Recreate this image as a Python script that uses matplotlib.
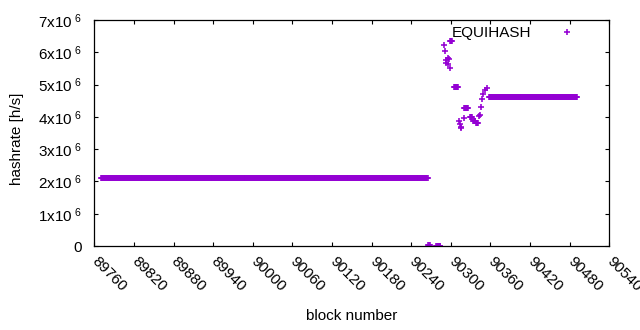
import numpy as np
import matplotlib
matplotlib.use("Agg")
import matplotlib.pyplot as plt
from matplotlib.ticker import FixedLocator, FixedFormatter

plt.rcParams['font.family'] = ['Liberation Sans', 'DejaVu Sans']
plt.rcParams['mathtext.fontset'] = 'custom'
plt.rcParams['mathtext.rm'] = 'Liberation Sans'
plt.rcParams['mathtext.it'] = 'Liberation Sans'
plt.rcParams['mathtext.bf'] = 'Liberation Sans'

# ---- data (hashrate in units of 1e6 h/s) ----
# runs of consecutive blocks with (nearly) constant hashrate
run_start = [89770, 90266, 90278, 90299, 90305, 90320, 90329, 90334, 90338, 90358]
run_end   = [90265, 90268, 90284, 90302, 90311, 90326, 90332, 90337, 90341, 90491]
run_value = [2.10, 0.04, 0.00, 6.34, 4.93, 4.26, 4.00, 3.88, 3.80, 4.63]

# isolated points
single_blocks = [90290, 90291, 90292, 90293, 90295, 90296, 90297, 90298,
                 90312, 90314, 90315, 90316, 90320,
                 90343, 90344, 90345, 90347, 90349, 90352, 90355]
single_values = [6.22, 6.05, 5.76, 5.68, 5.63, 5.82, 5.79, 5.51,
                 3.86, 3.78, 3.68, 3.64, 3.96,
                 4.02, 4.07, 4.30, 4.55, 4.70, 4.82, 4.89]

x_ticks = [89760, 89820, 89880, 89940, 90000, 90060, 90120, 90180,
           90240, 90300, 90360, 90420, 90480, 90540]
y_ticks = [0, 1, 2, 3, 4, 5, 6, 7]
y_tick_labels = ['0'] + [r'%dx10$^{\ 6}$' % v for v in y_ticks[1:]]
series_label = 'EQUIHASH'

# build series
xs, ys = [], []
for s, e, v in zip(run_start, run_end, run_value):
    b = np.arange(s, e + 1)
    xs.append(b)
    ys.append(np.full(b.shape, v * 1e6))
xs.append(np.array(single_blocks))
ys.append(np.array(single_values) * 1e6)
x = np.concatenate(xs)
y = np.concatenate(ys)
order = np.argsort(x, kind='stable')
x, y = x[order], y[order]

fig = plt.figure(figsize=(6.4, 3.3), dpi=100)
ax = fig.add_axes([94.3/640, 1-246/330, 515/640, 226/330])

color = '#9400d3'
ax.plot(x, y, linestyle='none', marker='+', ms=5.0, mew=1.15, color=color,
        label=series_label)

ax.set_xlim(89760, 90540)
ax.set_ylim(0, 7e6)

ax.xaxis.set_major_locator(FixedLocator(x_ticks))
ax.xaxis.set_major_formatter(FixedFormatter([str(t) for t in x_ticks]))
ax.yaxis.set_major_locator(FixedLocator([v * 1e6 for v in y_ticks]))
ax.yaxis.set_major_formatter(FixedFormatter(y_tick_labels))

ax.tick_params(axis='both', direction='in', length=3, width=0.8,
               top=True, right=True, labelsize=11, colors='black')
ax.tick_params(axis='x', pad=9.5)
ax.tick_params(axis='y', pad=9)
for lbl in ax.get_xticklabels():
    lbl.set_rotation(-45)
    lbl.set_ha('left')
    lbl.set_va('center')
    lbl.set_rotation_mode('anchor')

for sp in ax.spines.values():
    sp.set_linewidth(0.9)

ax.set_xlabel('block number', fontsize=11)
ax.set_ylabel('hashrate [h/s]', fontsize=11)
ax.xaxis.set_label_coords(0.5, (246 - 316) / 226, transform=ax.transAxes)
ax.yaxis.set_label_coords((17.5 - 94.3) / 515, (246 - 139) / 226)
ax.xaxis.label.set_va('center')
ax.yaxis.label.set_va('center')

ax.legend(loc='upper right', bbox_to_anchor=(0.947, 0.972),
          markerfirst=False, frameon=False, handlelength=2.0,
          handletextpad=1.29, borderpad=0, borderaxespad=0,
          fontsize=11, numpoints=1)

fig.savefig('out.png', dpi=100)
